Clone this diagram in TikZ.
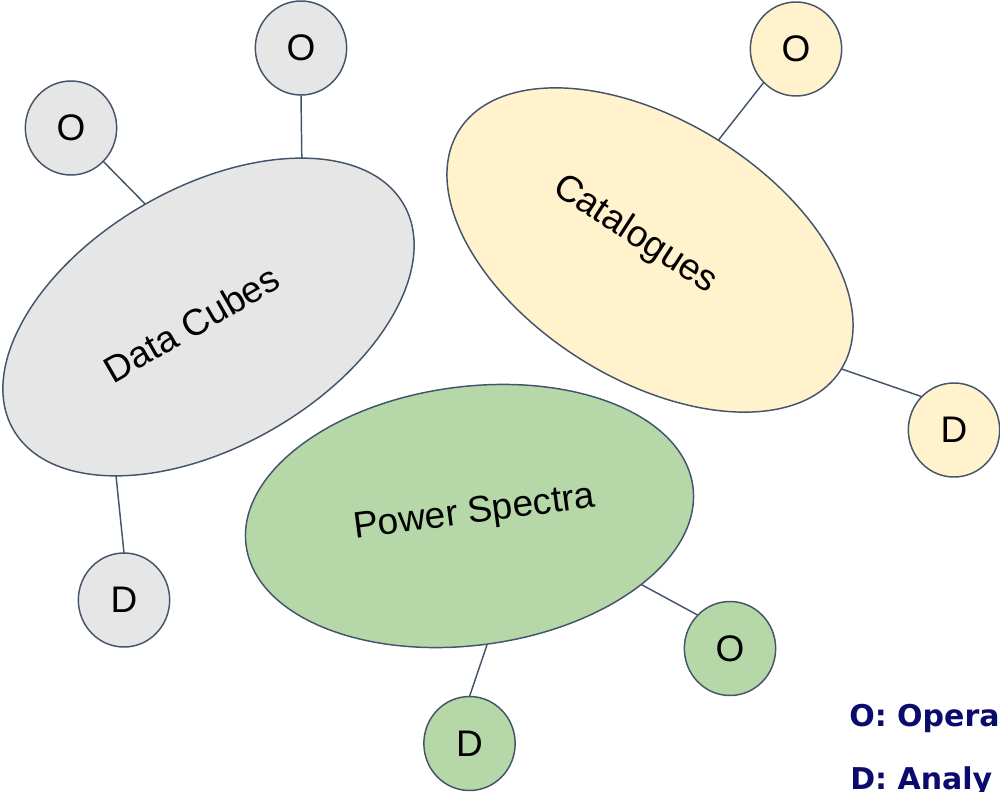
\documentclass[tikz,border=0pt]{standalone}
\usepackage{fontspec}
\setmainfont{Liberation Sans}
\newfontfamily\legendfont{DejaVu Sans}
\usetikzlibrary{shapes.geometric,backgrounds}
\definecolor{edgecol}{HTML}{44546A}
\definecolor{cubefill}{HTML}{E6E6E6}
\definecolor{catfill}{HTML}{FFF2CC}
\definecolor{specfill}{HTML}{B6D7A8}
\definecolor{legendcol}{HTML}{0B0B6E}
\begin{document}
\begin{tikzpicture}[x=0.75pt,y=-0.75pt,
  blob/.style={ellipse, draw=edgecol, line width=1.1pt, minimum width=338pt,
    minimum height=194pt, inner sep=0pt, outer sep=0pt},
  leaf/.style={ellipse, draw=edgecol, line width=1.1pt, minimum width=68.5pt,
    minimum height=70.5pt, inner sep=0pt, outer sep=0pt,
    font=\fontsize{27.75}{30}\selectfont},
  bigtext/.style={font=\fontsize{27.75}{30}\selectfont, inner sep=0pt},
  link/.style={draw=edgecol, line width=1.1pt},
  legend/.style={font=\legendfont\bfseries\fontsize{22.5}{26}\selectfont,
    text=legendcol, anchor=base west, inner sep=0pt}]
\useasboundingbox (0,0) rectangle (1000,792);

% the three data groups
\node[blob, fill=cubefill, rotate=30]  (cubes) at (208.5,317) {};
\node[blob, fill=catfill,  rotate=-32] (cat)   at (650,250) {};
\node[blob, fill=specfill, rotate=7.5] (spec)  at (469.5,516) {};

\node[bigtext, rotate=30]  (cubestext) at (191.5,324) {Data Cubes};
\node[bigtext, rotate=-33] (cattext)   at (635,235) {Catalogues};
\node[bigtext, rotate=7.5] (spectext)  at (474.5,514) {Power Spectra};

% O / D satellites
\node[leaf, fill=cubefill] (cubeo1) at (301,48)    {O};
\node[leaf, fill=cubefill] (cubeo2) at (71,128)    {O};
\node[leaf, fill=cubefill] (cubed)  at (124,600)   {D};
\node[leaf, fill=catfill]  (cato)   at (796,49)    {O};
\node[leaf, fill=catfill]  (catd)   at (954,430)   {D};
\node[leaf, fill=specfill] (speco)  at (730,648.5) {O};
\node[leaf, fill=specfill] (specd)  at (469.5,743.5) {D};

% link ends, just inside each group's outline
\coordinate (cubeo1in) at (302,172);
\coordinate (cubeo2in) at (153,212);
\coordinate (cubedin)  at (115,466);
\coordinate (catoin)   at (713,147);
\coordinate (catdin)   at (833,366);
\coordinate (specoin)  at (633,580);
\coordinate (specdin)  at (490,636);

\begin{scope}[on background layer]
  \draw[link] (cubeo1.south) -- (cubeo1in);
  \draw[link] (cubeo2.-46)   -- (cubeo2in);
  \draw[link] (cubed.north)  -- (cubedin);
  \draw[link] (cato.226)     -- (catoin);
  \draw[link] (catd.134)     -- (catdin);
  \draw[link] (speco.134)    -- (specoin);
  \draw[link] (specd.north)  -- (specdin);
\end{scope}

% legend
\node[legend] (lego) at (849,726) {O: Opera};
\node[legend] (legd) at (850,789) {D: Analy};
\end{tikzpicture}
\end{document}
